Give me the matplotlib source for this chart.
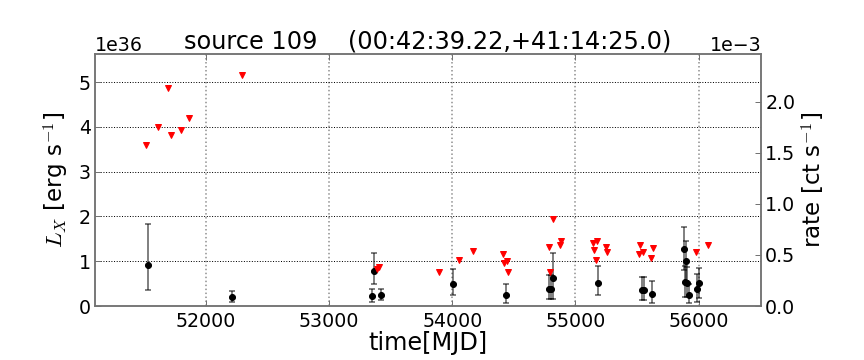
import numpy as np
import matplotlib
matplotlib.use("Agg")
import matplotlib.pyplot as plt
from matplotlib.ticker import MultipleLocator, ScalarFormatter

# ---- data (luminosity in units of 1e36 erg/s) ----
det_mjd = [51530, 52212, 53347, 53365, 53422, 54008, 54434, 54783, 54798, 54820,
           55187, 55541, 55557, 55624, 55878, 55898, 55892, 55905, 55919, 55987, 56000]
det_lx = [0.915, 0.20, 0.223, 0.79, 0.245, 0.50, 0.245, 0.37, 0.37, 0.63,
          0.52, 0.35, 0.35, 0.26, 1.27, 1.00, 0.54, 0.52, 0.245, 0.37, 0.51]
det_lo = [0.357, 0.096, 0.096, 0.49, 0.13, 0.24, 0.06, 0.15, 0.15, 0.15,
          0.24, 0.13, 0.13, 0.06, 0.80, 0.55, 0.20, 0.20, 0.06, 0.10, 0.17]
det_hi = [1.82, 0.34, 0.37, 1.18, 0.39, 0.83, 0.50, 0.69, 0.69, 1.18,
          0.89, 0.65, 0.65, 0.55, 1.76, 1.44, 0.90, 0.88, 0.50, 0.71, 0.84]

ul_mjd = [51509, 51606, 51688, 51712, 51794, 51861, 52291, 53385, 53405, 53889,
          54052, 54168, 54410, 54423, 54442, 54450, 54783, 54795, 54820, 54876,
          54885, 55144, 55154, 55168, 55176, 55246, 55257, 55513, 55525, 55546,
          55614, 55633, 55976, 56081]
ul_lx = [3.59, 4.00, 4.86, 3.82, 3.93, 4.19, 5.15, 0.82, 0.86, 0.75,
         1.03, 1.22, 1.15, 0.95, 1.00, 0.75, 1.32, 0.77, 1.94, 1.36,
         1.44, 1.41, 1.25, 1.02, 1.46, 1.32, 1.21, 1.15, 1.36, 1.20,
         1.07, 1.29, 1.20, 1.36]

LX_UNIT = 1e36
title = "source 109    (00:42:39.22,+41:14:25.0)"
xlim = (51098, 56509)
lx_max = 5.625
rate_max = 2.466e-3

plt.rcParams['font.family'] = ['DejaVu Sans']
plt.rcParams['mathtext.fontset'] = 'cm'

fig = plt.figure(figsize=(12, 5), dpi=72)
ax = fig.add_axes([0.110, 0.15, 0.771, 0.70])

x = np.array(det_mjd)
y = np.array(det_lx) * LX_UNIT
yerr = np.vstack([y - np.array(det_lo) * LX_UNIT, np.array(det_hi) * LX_UNIT - y])
ax.errorbar(x, y, yerr=yerr, fmt='none', ecolor=(0, 0, 0, 0.65),
            elinewidth=1.5, capsize=3, capthick=1.5, zorder=3)
ax.plot(x, y, 'o', color='k', markersize=6, zorder=4)
ax.plot(ul_mjd, np.array(ul_lx) * LX_UNIT, 'v', color='red', markersize=6,
        markeredgecolor='red', zorder=5)

ax.set_xlim(*xlim)
ax.set_ylim(0, lx_max * LX_UNIT)
ax.xaxis.set_major_locator(MultipleLocator(1000))
ax.yaxis.set_major_locator(MultipleLocator(1 * LX_UNIT))
ax.grid(axis='y', linestyle=':', color='k', linewidth=1.0)
ax.grid(axis='x', linestyle=':', color='0.55', linewidth=1.5)
ax.set_axisbelow(True)

ax2 = ax.twinx()
ax2.set_ylim(0, rate_max)
ax2.yaxis.set_major_locator(MultipleLocator(0.5e-3))
fmt2 = ScalarFormatter()
fmt2.set_powerlimits((-2, 2))
ax2.yaxis.set_major_formatter(fmt2)

for a in (ax, ax2):
    for s in a.spines.values():
        s.set_color('0.45')
        s.set_linewidth(1.5)
    a.tick_params(direction='in', color='0.45', labelsize=19, length=6, width=1)
    a.yaxis.get_offset_text().set_fontsize(19)

ax.tick_params(top=True, right=False)
ax.tick_params(axis='y', pad=4)
ax.tick_params(axis='x', pad=6)
ax2.tick_params(axis='y', pad=4)

ax.set_xlabel("time[MJD]", fontsize=24, labelpad=0)
ax.set_ylabel(r"$L_X$ [erg s$^{-1}$]", fontsize=23, labelpad=8)
ax2.set_ylabel(r"rate [ct s$^{-1}$]", fontsize=23, labelpad=4)
ax.set_title(title, fontsize=24, pad=6)

fig.savefig("out.png", dpi=72)
